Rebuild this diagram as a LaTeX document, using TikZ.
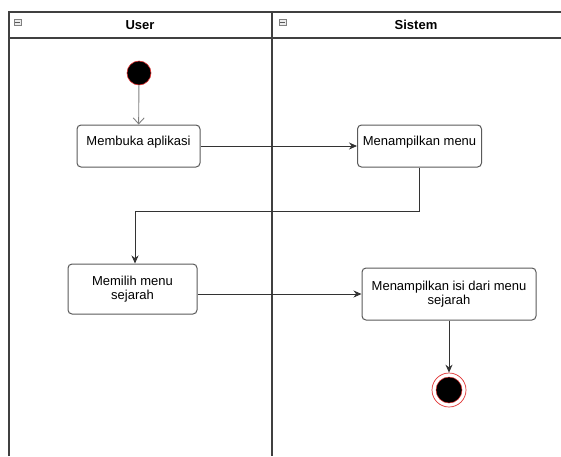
\documentclass[tikz,border=0pt]{standalone}
\usepackage{fontspec}
\setmainfont{Liberation Sans}
\usetikzlibrary{arrows.meta}
\definecolor{lanegray}{HTML}{404040}
\definecolor{boxgray}{HTML}{5A5A5A}
\definecolor{flowgray}{HTML}{333333}
\definecolor{startred}{HTML}{E03030}
\tikzset{
  lane/.style={draw=lanegray, line width=1.3pt},
  actbox/.style={draw=boxgray, line width=1pt, rounded corners=4pt, fill=white,
    align=center, inner sep=2pt, font=\fontsize{13}{14.5}\selectfont},
  oneline/.style={text height=9.5pt, text depth=10pt},
  flow/.style={draw=flowgray, line width=0.9pt, -{Stealth[length=8pt,width=7pt]}},
  openflow/.style={draw=gray, line width=0.9pt, -{Straight Barb[length=6pt,width=11pt]}},
  lanetitle/.style={font=\fontsize{13}{16}\selectfont\bfseries},
  foldicon/.style={draw=gray, fill=gray!15, line width=0.4pt, minimum width=7pt, minimum height=6pt, inner sep=0pt}
}
\begin{document}
\begin{tikzpicture}[x=1pt,y=-1pt]
\useasboundingbox (0,0) rectangle (561,456);
% swimlane frame
\draw[lane] (9,456) -- (9,12) -- (561,12);
\draw[lane] (9,38) -- (561,38);
\draw[lane] (272,12) -- (272,456);
% lane titles and fold icons
\node[lanetitle] (userhdr) at (140,25) {User};
\node[lanetitle] (sishdr) at (416,25) {Sistem};
\node[foldicon] (iconu) at (17.5,22) {};
\draw[gray!70!black, line width=0.6pt] (iconu.west) ++(1.2,0) -- ++(4.6,0);
\node[foldicon] (icons) at (282.5,22) {};
\draw[gray!70!black, line width=0.6pt] (icons.west) ++(1.2,0) -- ++(4.6,0);
% initial and final nodes
\node[circle, fill=black, draw=startred, line width=0.6pt, minimum size=24pt, inner sep=0pt] (start) at (139,73) {};
\node[circle, draw=startred, line width=0.7pt, minimum size=34pt, inner sep=0pt] (finish) at (449,390) {};
\node[circle, fill=black, draw=startred, line width=0.5pt, minimum size=26pt, inner sep=0pt] (finishin) at (449,390) {};
% activities
\node[actbox, oneline, minimum width=123pt, minimum height=42pt] (buka) at (138.5,146) {Membuka aplikasi};
\node[actbox, oneline, minimum width=124pt, minimum height=42pt] (menu) at (419.5,146) {Menampilkan menu};
\node[actbox, minimum width=129pt, minimum height=50pt] (pilih) at (132.5,289) {Memilih menu\\sejarah};
\node[actbox, minimum width=174pt, minimum height=52pt] (isi) at (449,294) {Menampilkan isi dari menu\\sejarah};
% control flow
\coordinate (bend) at (135,211);
\draw[openflow] (start) -- (buka);
\draw[flow] (buka.east) -- (menu.west);
\draw[flow] (menu.south) |- (bend) -- (bend |- pilih.north);
\draw[flow] (pilih.east |- isi.west) -- (isi.west);
\draw[flow] (isi.south) -- (finish.north);
\end{tikzpicture}
\end{document}
